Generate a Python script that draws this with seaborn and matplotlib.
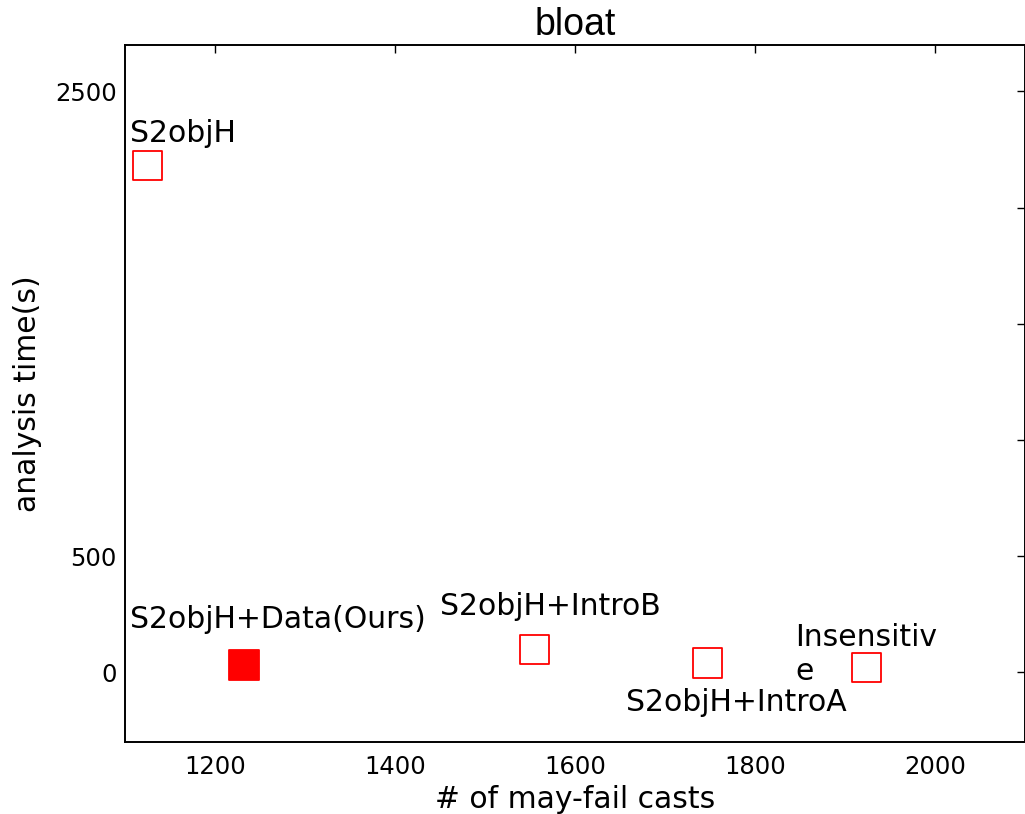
import matplotlib
matplotlib.use("Agg")
import matplotlib.pyplot as plt
from matplotlib.ticker import FixedLocator, FixedFormatter
import seaborn as sns
import pandas as pd

# ---- data ----
methods = ["S2objH", "S2objH+Data(Ours)", "S2objH+IntroB", "S2objH+IntroA", "Insensitive"]
may_fail_casts = [1125, 1232, 1555, 1747, 1924]
analysis_time = [2181, 30, 97, 40, 21]
is_ours = [False, True, False, False, False]
point_labels = ["S2objH", "S2objH+Data(Ours)", "S2objH+IntroB", "S2objH+IntroA", "Insensitiv\ne"]
x_ticks = [1200, 1400, 1600, 1800, 2000]
y_ticks = [0, 500, 1000, 1500, 2000, 2500]
y_tick_labels = ["0", "500", "", "", "", "2500"]

df = pd.DataFrame({"method": methods, "casts": may_fail_casts,
                   "time": analysis_time, "ours": is_ours})

sns.set_style("white")
plt.rcParams["font.family"] = ["DejaVu Sans"]
plt.rcParams["text.color"] = "black"
plt.rcParams["axes.labelcolor"] = "black"

fig = plt.figure(figsize=(10.25, 8.14), dpi=100)
ax = fig.add_axes([125 / 1025, 1 - 742 / 814, 900 / 1025, 697 / 814])

hollow = df[~df["ours"]]
filled = df[df["ours"]]
sns.scatterplot(data=hollow, x="casts", y="time", marker="s", s=440,
                color="red", facecolor="none", edgecolor="red",
                linewidth=1.3, ax=ax, legend=False, zorder=3)
sns.scatterplot(data=filled, x="casts", y="time", marker="s", s=440,
                color="red", edgecolor="red", linewidth=1.3, ax=ax,
                legend=False, zorder=3)

# label offsets in pixels (relative to marker centre)
offsets = [(-17.5, 23.4, "baseline"), (-113.7, 37.4, "baseline"),
           (-94.7, 35.2, "baseline"), (-81.5, -48.4, "baseline"),
           (-71, 44, "top")]
for lab, xv, yv, (dx, dy, va) in zip(point_labels, may_fail_casts, analysis_time, offsets):
    if va == "top":
        ax.annotate(lab, xy=(xv, yv), xytext=(dx, dy), textcoords="offset pixels",
                    ha="left", va="top", fontsize=21.5, linespacing=1.2,
                    color="black")
    else:
        ax.annotate(lab, xy=(xv, yv), xytext=(dx, dy), textcoords="offset pixels",
                    ha="left", va="baseline", fontsize=21.5, color="black")

ax.set_xlim(1100, 2100)
ax.set_ylim(-300, 2700)
ax.xaxis.set_major_locator(FixedLocator(x_ticks))
ax.yaxis.set_major_locator(FixedLocator(y_ticks))
ax.yaxis.set_major_formatter(FixedFormatter(y_tick_labels))

ax.tick_params(direction="in", length=6, width=1, top=True, right=True,
               labelsize=17.5, colors="black")
ax.tick_params(axis="x", pad=9)
ax.tick_params(axis="y", pad=6)
for sp in ax.spines.values():
    sp.set_visible(True)
    sp.set_linewidth(1.4)
    sp.set_color("black")

ax.set_xlabel("# of may-fail casts", fontsize=21.5, labelpad=5, color="black")
ax.set_ylabel("analysis time(s)", fontsize=21.5, labelpad=9, color="black")
ax.set_title("bloat", fontsize=27, family=["Liberation Sans", "DejaVu Sans"],
             pad=7, color="black")

fig.savefig("out.png", dpi=100)
